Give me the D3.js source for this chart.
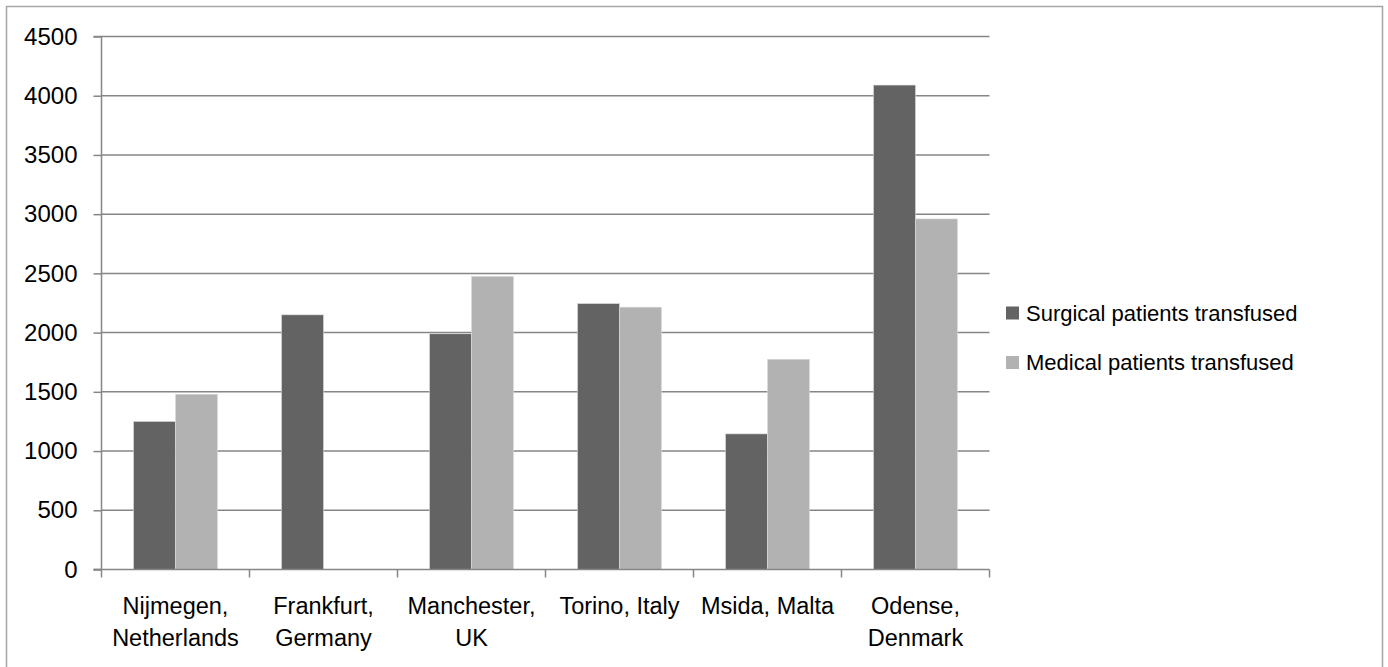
<!DOCTYPE html>
<html>
<head>
<meta charset="utf-8">
<script src="https://cdn.jsdelivr.net/npm/d3@7"></script>
<style>
  html, body { margin: 0; padding: 0; background: #fff; }
  svg { display: block; }
  text { font-family: "Liberation Sans", Arial, sans-serif; fill: #000; }
</style>
</head>
<body>
<svg id="chart" width="1388" height="667"></svg>
<script>
const categories = [
  ["Nijmegen,", "Netherlands"],
  ["Frankfurt,", "Germany"],
  ["Manchester,", "UK"],
  ["Torino, Italy"],
  ["Msida, Malta"],
  ["Odense,", "Denmark"]
];
const seriesNames = ["Surgical patients transfused", "Medical patients transfused"];
const surgical = [1250, 2150, 1990, 2245, 1145, 4090];
const medical  = [1480, null, 2475, 2215, 1775, 2960];
const yTicks = [0, 500, 1000, 1500, 2000, 2500, 3000, 3500, 4000, 4500];
const colors = ["#636363", "#b2b2b2"];

(function () {
const svg = d3.select("#chart");
const pl = 101.5, pr = 989.5, pt = 36.5, pb = 569.5;

// outer border
svg.append("rect").attr("x", 6.5).attr("y", 6.5).attr("width", 1376).attr("height", 665)
  .attr("fill", "none").attr("stroke", "#a6a6a6").attr("stroke-width", 1.5);

const idx = d3.range(categories.length);
const x = d3.scaleBand().domain(idx).range([pl, pr]).paddingInner(0).paddingOuter(0);
const x1 = d3.scaleBand().domain([0, 1]).range([0, x.bandwidth()]).paddingInner(0).paddingOuter(0.762);
const y = d3.scaleLinear().domain([0, 4500]).range([pb, pt]);

// gridlines
svg.append("g").selectAll("line").data(yTicks.filter(d => d > 0)).join("line")
  .attr("x1", pl).attr("x2", pr)
  .attr("y1", d => y(d)).attr("y2", d => y(d))
  .attr("stroke", "#868686").attr("stroke-width", 1.5);

// bars
const rows = [];
idx.forEach(i => {
  [surgical[i], medical[i]].forEach((v, s) => {
    if (v != null) rows.push({ i, s, v });
  });
});
svg.append("g").selectAll("rect").data(rows).join("rect")
  .attr("x", d => x(d.i) + x1(d.s))
  .attr("width", x1.bandwidth())
  .attr("y", d => y(d.v))
  .attr("height", d => y(0) - y(d.v))
  .attr("fill", d => colors[d.s])
  .attr("stroke", "#dcdcdc").attr("stroke-width", 0.6);

// y axis
const yAxis = d3.axisLeft(y).tickValues(yTicks).tickSize(8).tickPadding(16).tickFormat(d3.format("d"));
const gy = svg.append("g").attr("transform", `translate(${pl},0)`).call(yAxis);
gy.select(".domain").attr("stroke", "#868686").attr("stroke-width", 1.5).attr("d", `M-8,${pt}H0V${pb}H-8`);
gy.selectAll(".tick line").attr("stroke", "#868686").attr("stroke-width", 1.5);
gy.selectAll(".tick text").style("font-size", "24px").style("font-family", "'Liberation Sans', Arial, sans-serif").attr("fill", "#000");

// x axis
const xEdges = d3.scaleLinear().domain([0, categories.length]).range([pl, pr]);
const gx = svg.append("g");
gx.append("line").attr("x1", pl - 8).attr("x2", pr).attr("y1", pb).attr("y2", pb)
  .attr("stroke", "#868686").attr("stroke-width", 1.5);
gx.selectAll("line.tk").data(d3.range(categories.length + 1)).join("line").attr("class", "tk")
  .attr("x1", d => xEdges(d)).attr("x2", d => xEdges(d))
  .attr("y1", pb).attr("y2", pb + 8)
  .attr("stroke", "#868686").attr("stroke-width", 1.5);

const lab = svg.append("g").selectAll("text").data(idx).join("text")
  .attr("x", i => x(i) + x.bandwidth() / 2)
  .attr("y", 613.5)
  .attr("text-anchor", "middle")
  .style("font-size", "23.5px");
lab.each(function(i) {
  const t = d3.select(this);
  categories[i].forEach((line, k) => {
    t.append("tspan").attr("x", x(i) + x.bandwidth() / 2).attr("dy", k === 0 ? 0 : 32).text(line);
  });
});

// legend
const lg = svg.append("g").selectAll("g").data(seriesNames).join("g")
  .attr("transform", (d, k) => `translate(1006, ${313 + k * 49.5})`);
lg.append("rect").attr("x", 0).attr("y", -6.5).attr("width", 13).attr("height", 13)
  .attr("fill", (d, k) => colors[k]);
lg.append("text").attr("x", 20).attr("y", 0).attr("dy", "0.36em")
  .style("font-size", "22px").text(d => d);
})();
</script>
</body>
</html>
